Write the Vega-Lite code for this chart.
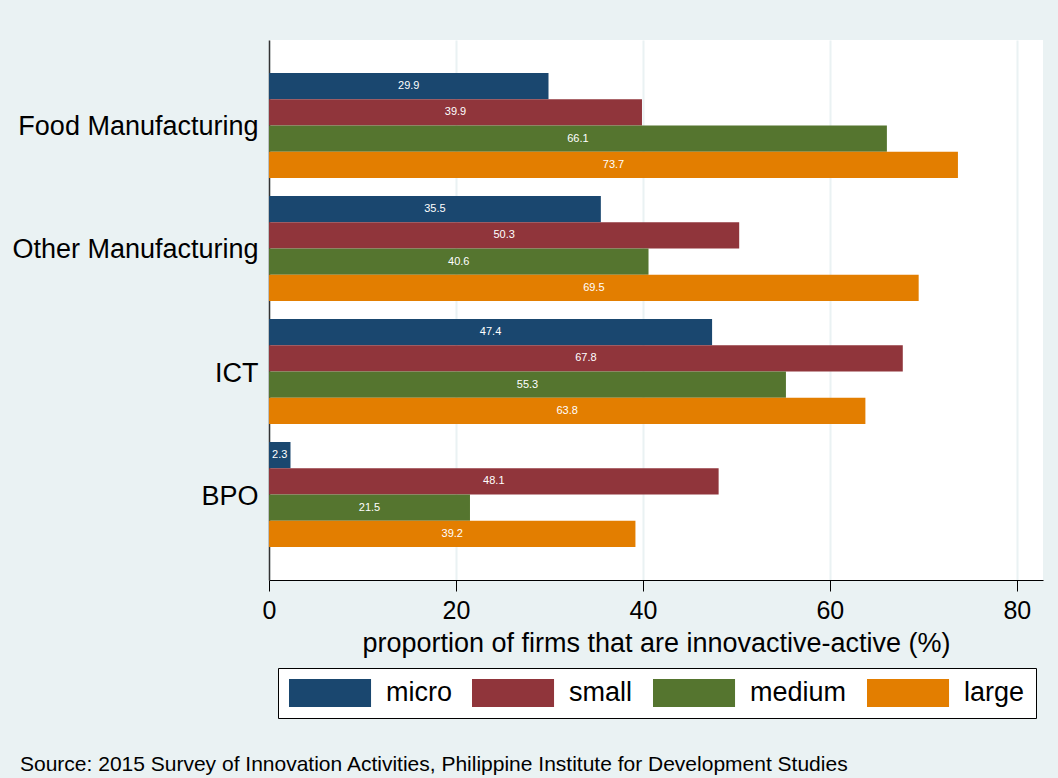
{
  "$schema": "https://vega.github.io/schema/vega-lite/v6.json",
  "autosize": {"type": "none"},
  "width": 774,
  "height": 540,
  "padding": {"left": 269, "top": 40, "right": 15, "bottom": 198},
  "background": "#eaf2f3",
  "config": {
    "view": {"fill": "white", "stroke": null},
    "font": "Liberation Sans"
  },
  "title": {
    "text": "Source: 2015 Survey of Innovation Activities, Philippine Institute for Development Studies",
    "orient": "bottom",
    "anchor": "start",
    "frame": "group",
    "dx": -249,
    "offset": 35,
    "fontSize": 21,
    "fontWeight": "normal",
    "color": "black",
    "font": "Liberation Sans"
  },
  "data": {
    "values": [
      {"sector": "Food Manufacturing", "size": "micro", "value": 29.9},
      {"sector": "Food Manufacturing", "size": "small", "value": 39.9},
      {"sector": "Food Manufacturing", "size": "medium", "value": 66.1},
      {"sector": "Food Manufacturing", "size": "large", "value": 73.7},
      {"sector": "Other Manufacturing", "size": "micro", "value": 35.5},
      {"sector": "Other Manufacturing", "size": "small", "value": 50.3},
      {"sector": "Other Manufacturing", "size": "medium", "value": 40.6},
      {"sector": "Other Manufacturing", "size": "large", "value": 69.5},
      {"sector": "ICT", "size": "micro", "value": 47.4},
      {"sector": "ICT", "size": "small", "value": 67.8},
      {"sector": "ICT", "size": "medium", "value": 55.3},
      {"sector": "ICT", "size": "large", "value": 63.8},
      {"sector": "BPO", "size": "micro", "value": 2.3},
      {"sector": "BPO", "size": "small", "value": 48.1},
      {"sector": "BPO", "size": "medium", "value": 21.5},
      {"sector": "BPO", "size": "large", "value": 39.2}
    ]
  },
  "encoding": {
    "y": {
      "field": "sector",
      "type": "nominal",
      "sort": ["Food Manufacturing", "Other Manufacturing", "ICT", "BPO"],
      "scale": {"paddingInner": 0.146, "paddingOuter": 0.268},
      "axis": {
        "title": null,
        "ticks": false,
        "labelFontSize": 27,
        "labelColor": "black",
        "labelPadding": 11,
        "labelLimit": 400,
        "labelOffset": 2,
        "domainColor": "#333333",
        "domainWidth": 1.5,
        "grid": false
      }
    },
    "yOffset": {
      "field": "size",
      "type": "nominal",
      "sort": ["micro", "small", "medium", "large"],
      "scale": {"paddingInner": 0, "paddingOuter": 0}
    }
  },
  "layer": [
    {
      "mark": {"type": "bar"},
      "encoding": {
        "x": {
          "field": "value",
          "type": "quantitative",
          "scale": {"domain": [0, 82.8], "nice": false, "zero": true},
          "axis": {
            "values": [0, 20, 40, 60, 80],
            "title": "proportion of firms that are innovactive-active (%)",
            "titleFontSize": 27,
            "titleFontWeight": "normal",
            "titleColor": "black",
            "titlePadding": 7,
            "labelFontSize": 25,
            "labelColor": "black",
            "labelPadding": 7,
            "labelFlush": false,
            "tickSize": 11,
            "tickColor": "black",
            "domainColor": "black",
            "gridColor": "#eaf2f3",
            "gridWidth": 2
          }
        },
        "color": {
          "field": "size",
          "type": "nominal",
          "sort": ["micro", "small", "medium", "large"],
          "scale": {
            "domain": ["micro", "small", "medium", "large"],
            "range": ["#1a476f", "#90353b", "#55752f", "#e37e00"]
          },
          "legend": {
            "orient": "none",
            "legendX": 9,
            "legendY": 628,
            "direction": "horizontal",
            "columns": 4,
            "title": null,
            "fillColor": "white",
            "strokeColor": "black",
            "padding": 11,
            "symbolType": "M-1,-1H4.86V1H-1Z",
            "symbolSize": 784,
            "symbolStrokeWidth": 0,
            "symbolOpacity": 1,
            "labelFontSize": 27,
            "labelColor": "black",
            "labelOffset": 69,
            "columnPadding": 20
          }
        }
      }
    },
    {
      "mark": {
        "type": "text",
        "color": "white",
        "fontSize": 11,
        "x": {"expr": "scale('x', datum.value) / 2"}
      },
      "encoding": {
        "text": {"field": "value", "type": "quantitative", "format": ".1f"}
      }
    }
  ]
}
